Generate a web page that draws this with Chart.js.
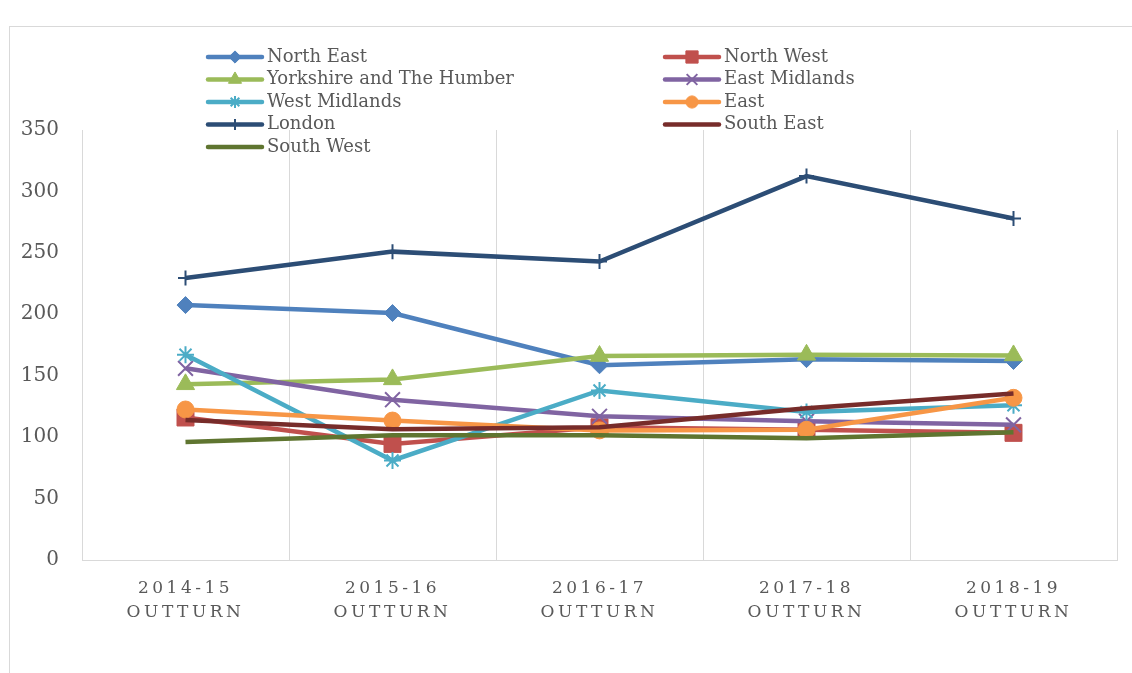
<!DOCTYPE html>
<html>
<head>
<meta charset="utf-8">
<script src="https://cdn.jsdelivr.net/npm/chart.js@4/dist/chart.umd.min.js"></script>
<style>
  html, body { margin: 0; padding: 0; background: #ffffff; }
  #wrap { width: 1132px; height: 673px; position: relative; }
</style>
</head>
<body>
<div id="wrap"><canvas id="chart"></canvas></div>
<script>
// Financial years on the x axis (each shown over an "OUTTURN" line)
const years = ['2014-15', '2015-16', '2016-17', '2017-18', '2018-19'];
const yearSuffix = 'OUTTURN';

// Value axis range
const yMin = 0;
const yMax = 350;
const yStep = 50;

// Region names, in series order
const regionNames = [
  'North East', 'North West', 'Yorkshire and The Humber', 'East Midlands',
  'West Midlands', 'East', 'London', 'South East', 'South West'
];

// Series values per region
const northEast    = [207.5, 201.0, 158.5, 163.5, 162.0];
const northWest    = [116.0,  94.5, 108.0, 106.0, 103.5];
const yorkshire    = [143.0, 147.0, 166.0, 167.0, 166.5];
const eastMidlands = [156.0, 130.5, 117.0, 113.0, 110.0];
const westMidlands = [167.0,  81.0, 138.0, 120.5, 126.0];
const east         = [122.5, 113.5, 105.5, 106.0, 132.0];
const london       = [229.5, 251.0, 243.0, 312.5, 278.0];
const southEast    = [114.0, 106.5, 108.0, 123.5, 135.5];
const southWest    = [ 96.0, 101.5, 101.5,  99.0, 104.0];

const seriesValues = [northEast, northWest, yorkshire, eastMidlands,
                      westMidlands, east, london, southEast, southWest];

// Line colours and markers
const seriesColors = ['#4F81BD', '#C0504D', '#9BBB59', '#8064A2',
                      '#4BACC6', '#F79646', '#2C4D75', '#772C2A', '#5F7530'];
const seriesMarkers = [
  { style: 'rectRot',  radius: 8.5, border: 1 },
  { style: 'rect',     radius: 12,  border: 1 },
  { style: 'triangle', radius: 10.5, border: 1 },
  { style: 'crossRot', radius: 10.5, border: 2 },
  { style: 'star',     radius: 8.5, border: 2 },
  { style: 'circle',   radius: 8.5, border: 1 },
  { style: 'cross',    radius: 7.5, border: 2 },
  { style: false,      radius: 0,   border: 0 },
  { style: false,      radius: 0,   border: 0 }
];

const textColor = '#595959';
const axisColor = '#D9D9D9';
const serif = '"DejaVu Serif", "Liberation Serif", serif';

const datasets = regionNames.map((name, i) => ({
  label: name,
  data: seriesValues[i],
  borderColor: seriesColors[i],
  backgroundColor: seriesColors[i],
  borderWidth: 4.5,
  tension: 0,
  fill: false,
  pointStyle: seriesMarkers[i].style || 'circle',
  pointRadius: seriesMarkers[i].radius,
  pointHoverRadius: seriesMarkers[i].radius,
  pointBorderWidth: seriesMarkers[i].border,
  pointBorderColor: seriesColors[i],
  pointBackgroundColor: seriesColors[i],
  order: regionNames.length - i   // later series are painted on top
}));

// Light frame around the whole chart; letter-spaced category labels
const framePlugin = {
  id: 'frame',
  beforeDraw(chart) {
    const ctx = chart.ctx;
    ctx.save();
    ctx.strokeStyle = axisColor;
    ctx.lineWidth = 1;
    ctx.strokeRect(9.5, 26.5, 1200, 700);
    ctx.restore();
    ctx.letterSpacing = '3.5px';
  },
  beforeDatasetsDraw(chart) {
    chart.ctx.letterSpacing = '0px';
  }
};

// Two-column legend laid over the top of the plot
const legendPlugin = {
  id: 'twoColumnLegend',
  afterDatasetsDraw(chart) {
    const ctx = chart.ctx;
    const colX = [208, 665];
    const lineLen = 54;
    const rowY0 = 57;
    const rowH = 22.5;
    ctx.save();
    ctx.letterSpacing = '0px';
    chart.data.datasets.forEach((ds, i) => {
      const col = i % 2;
      const row = Math.floor(i / 2);
      const x = colX[col];
      const y = rowY0 + row * rowH;
      ctx.strokeStyle = ds.borderColor;
      ctx.fillStyle = ds.backgroundColor;
      ctx.lineWidth = 4.5;
      ctx.lineCap = 'round';
      ctx.beginPath();
      ctx.moveTo(x, y);
      ctx.lineTo(x + lineLen, y);
      ctx.stroke();
      const m = seriesMarkers[i];
      if (m.style && Chart.helpers && Chart.helpers.drawPoint) {
        ctx.lineWidth = m.border;
        ctx.lineCap = 'butt';
        Chart.helpers.drawPoint(ctx, {
          pointStyle: m.style, radius: m.radius * 0.72,
          borderWidth: m.border, rotation: 0
        }, x + lineLen / 2, y);
      }
      ctx.fillStyle = textColor;
      ctx.font = '18px ' + serif;
      ctx.textAlign = 'left';
      ctx.textBaseline = 'middle';
      ctx.fillText(ds.label, x + lineLen + 5, y);
    });
    ctx.restore();
  }
};

new Chart(document.getElementById('chart'), {
  type: 'line',
  data: {
    labels: years.map(y => [y, yearSuffix]),
    datasets: datasets
  },
  options: {
    responsive: true,
    maintainAspectRatio: false,
    animation: false,
    events: [],
    layout: { padding: { top: 130, right: 15, left: 0, bottom: 0 } },
    plugins: {
      legend: { display: false },
      tooltip: { enabled: false },
      title: { display: false }
    },
    scales: {
      x: {
        offset: true,
        afterFit(scale) { scale.height = 113; },
        grid: {
          display: true,
          offset: true,
          drawTicks: false,
          lineWidth: 1,
          color: (c) => (c.index === 0 || c.index >= years.length) ? 'rgba(0,0,0,0)' : axisColor
        },
        border: { display: true, color: axisColor, width: 1 },
        ticks: {
          color: textColor,
          padding: 16,
          maxRotation: 0,
          autoSkip: false,
          font: { family: serif, size: 17, lineHeight: 1.45 }
        }
      },
      y: {
        min: yMin,
        max: yMax,
        afterFit(scale) { scale.width = 82; },
        grid: { display: false, drawTicks: false },
        border: { display: true, color: axisColor, width: 1, z: 1 },
        ticks: {
          z: 1,
          stepSize: yStep,
          color: textColor,
          padding: 23,
          font: { family: serif, size: 20 }
        }
      }
    }
  },
  plugins: [framePlugin, legendPlugin]
});
</script>
</body>
</html>
